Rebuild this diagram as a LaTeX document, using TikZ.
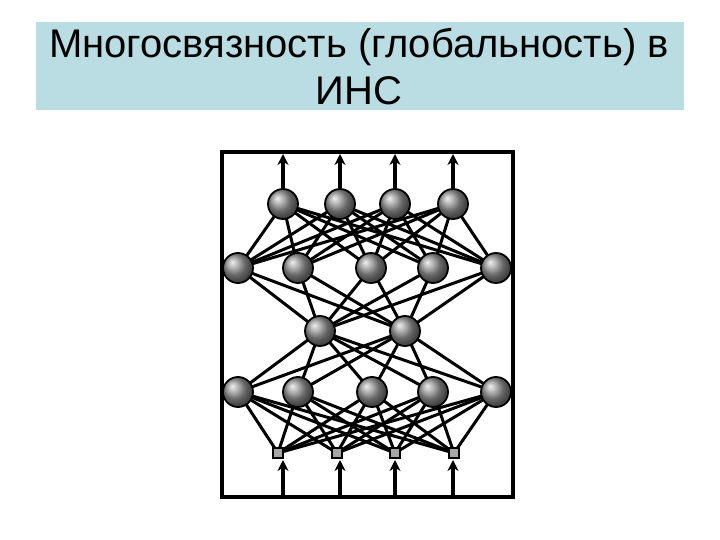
\documentclass[tikz,border=0pt]{standalone}
\usepackage{fontspec}
\setmainfont{Liberation Sans}
\usetikzlibrary{arrows.meta,backgrounds}
\definecolor{titlebg}{RGB}{185,221,226}
\tikzset{
  neuron/.style={circle,draw=black,line width=1.8pt,shading=ball,ball color=gray!85,minimum size=30pt,inner sep=0pt},
  inbox/.style={rectangle,draw=black,line width=1.4pt,fill=gray!70,minimum size=10pt,inner sep=0pt},
  link/.style={line width=3pt},
  signal/.style={line width=3.5pt,-{Stealth[length=11pt,width=11pt]}}
}
\begin{document}
\begin{tikzpicture}[x=1pt,y=-1pt]
  \useasboundingbox (0,0) rectangle (720,540);
  % title
  \node[fill=titlebg,minimum width=648pt,minimum height=88pt,inner sep=0pt] (title) at (360,66) {};
  \node[align=center,font=\fontsize{40}{47}\selectfont] (heading) at (359,67) {Многосвязность (глобальность) в\\ИНС};
  % frame
  \node[draw,line width=4pt,minimum width=291pt,minimum height=345pt,inner sep=0pt] (frame) at (367.5,324.5) {};
  % layers
  \foreach \x [count=\i] in {283,340,395,453} \node[neuron] (o\i) at (\x,204) {};
  \foreach \x [count=\i] in {238,298,371,433,496} \node[neuron] (a\i) at (\x,268) {};
  \foreach \x [count=\i] in {320,405} \node[neuron] (m\i) at (\x,331) {};
  \foreach \x [count=\i] in {238,298,372,433,496} \node[neuron] (b\i) at (\x,392) {};
  \foreach \x [count=\i] in {278,337,395,454} \node[inbox] (in\i) at (\x,453) {};
  % connections
  \begin{scope}[on background layer]
    \foreach \i in {1,...,4} \foreach \j in {1,...,5} \draw[link] (o\i.center) -- (a\j.center);
    \foreach \i in {1,...,5} \foreach \j in {1,2} \draw[link] (a\i.center) -- (m\j.center);
    \foreach \i in {1,2} \foreach \j in {1,...,5} \draw[link] (m\i.center) -- (b\j.center);
    \foreach \i in {1,...,5} \foreach \j in {1,...,4} \draw[link] (b\i.center) -- (in\j.center);
  \end{scope}
  % outputs and inputs
  \foreach \x [count=\i] in {283,340,395,453} {
    \coordinate (top\i) at (\x,154);
    \coordinate (bot\i) at (\x,496);
    \coordinate (tip\i) at (\x,460);
    \draw[signal] (o\i) -- (top\i);
    \draw[signal] (bot\i) -- (tip\i);
  }
\end{tikzpicture}
\end{document}
